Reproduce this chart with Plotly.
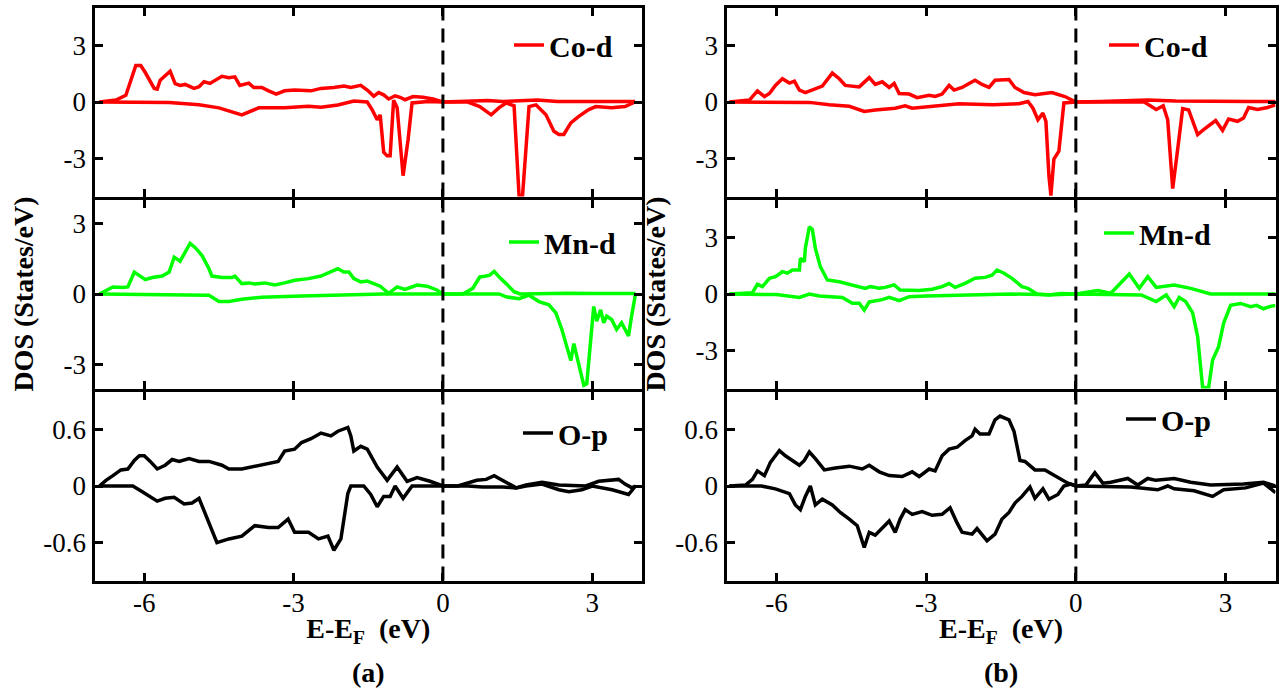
import plotly.graph_objects as go

# ---------------- data (E - E_F in eV, DOS in states/eV) ----------------
# Panel (a)
a_co_up_E = [-6.9, -6.57, -6.37, -6.27, -6.17, -6.07, -5.98, -5.8, -5.74, -5.68, -5.58, -5.48, -5.38, -5.28, -5.18, -5.0, -4.9, -4.8, -4.68, -4.58, -4.44, -4.3, -4.18, -4.08, -3.9, -3.8, -3.64, -3.5, -3.35, -3.18, -2.98, -2.65, -2.45, -2.19, -1.99, -1.85, -1.65, -1.52, -1.39, -1.29, -1.19, -1.09, -0.96, -0.86, -0.76, -0.6, -0.4, -0.2, 0.0, 0.3, 0.6, 0.9, 1.2, 1.5, 1.9, 2.3, 2.7, 3.0, 3.3, 3.6, 3.86]
a_co_up = [0, 0.1, 0.36, 1.15, 1.93, 1.93, 1.56, 0.72, 0.68, 1.15, 1.4, 1.63, 0.97, 0.88, 0.93, 0.72, 0.81, 1.07, 0.98, 1.15, 1.36, 1.29, 1.33, 0.88, 1.0, 0.77, 0.77, 0.59, 0.42, 0.59, 0.63, 0.59, 0.72, 0.77, 0.85, 0.77, 0.88, 0.63, 0.31, 0.5, 0.38, 0.16, 0.33, 0.25, 0.12, 0.29, 0.25, 0.16, 0.0, 0.02, 0.05, 0.08, 0.03, 0.05, 0.1, 0.03, 0.02, 0.02, 0.05, 0.03, 0.02]
a_co_dn_E = [-6.9, -5.5, -4.9, -4.5, -4.04, -3.7, -3.18, -2.7, -2.45, -2.11, -1.79, -1.52, -1.42, -1.32, -1.26, -1.19, -1.12, -1.06, -0.99, -0.92, -0.8, -0.7, -0.62, -0.3, 0.0, 0.5, 0.74, 0.97, 1.13, 1.27, 1.43, 1.53, 1.6, 1.73, 1.87, 2.07, 2.23, 2.33, 2.43, 2.57, 2.73, 2.93, 3.07, 3.39, 3.66, 3.86]
a_co_dn = [0, -0.03, -0.15, -0.31, -0.68, -0.31, -0.31, -0.23, -0.28, -0.16, 0.05, 0.0, -0.42, -0.94, -0.68, -2.66, -2.85, -2.85, 0.1, -0.3, -3.9, -2.0, -0.05, 0.02, 0.0, 0.0, -0.24, -0.68, -0.3, -0.05, -0.2, -4.95, -4.95, -0.24, -0.15, -0.68, -1.55, -1.72, -1.72, -1.1, -0.76, -0.4, -0.24, -0.3, -0.24, 0.0]

a_mn_up_E = [-6.9, -6.63, -6.43, -6.33, -6.2, -5.98, -5.84, -5.64, -5.5, -5.4, -5.28, -5.08, -4.98, -4.84, -4.7, -4.64, -4.44, -4.24, -4.18, -4.04, -3.9, -3.78, -3.58, -3.38, -3.18, -2.98, -2.7, -2.45, -2.19, -2.11, -1.99, -1.89, -1.79, -1.65, -1.52, -1.39, -1.26, -1.09, -0.92, -0.76, -0.52, -0.32, -0.12, 0.0, 0.4, 0.6, 0.74, 0.84, 0.94, 1.03, 1.13, 1.27, 1.43, 1.55, 2.0, 2.5, 3.0, 3.5, 3.87]
a_mn_up = [0, 0.3, 0.28, 0.3, 0.93, 0.61, 0.7, 0.76, 0.93, 1.56, 1.39, 2.14, 1.97, 1.63, 1.07, 0.76, 0.7, 0.7, 0.76, 0.44, 0.47, 0.42, 0.47, 0.38, 0.47, 0.58, 0.65, 0.76, 1.0, 1.07, 0.93, 0.93, 0.65, 0.51, 0.55, 0.42, 0.33, 0.03, 0.3, 0.19, 0.38, 0.33, 0.17, 0.0, 0.0, 0.24, 0.72, 0.75, 0.8, 0.96, 0.72, 0.44, 0.1, 0.0, 0.02, 0.03, 0.02, 0.03, 0.02]
a_mn_dn_E = [-6.9, -5.5, -4.9, -4.7, -4.5, -4.3, -4.04, -3.64, -2.84, -2.19, -1.2, 0.0, 1.13, 1.27, 1.53, 1.73, 1.93, 2.13, 2.27, 2.39, 2.49, 2.57, 2.63, 2.73, 2.83, 2.89, 2.97, 3.03, 3.09, 3.17, 3.23, 3.29, 3.39, 3.49, 3.59, 3.73, 3.79, 3.87]
a_mn_dn = [0, -0.02, -0.03, -0.05, -0.32, -0.32, -0.22, -0.14, -0.08, -0.04, 0.0, 0.0, 0.0, -0.12, -0.2, -0.05, -0.32, -0.46, -0.8, -1.5, -2.2, -2.82, -2.1, -3.03, -3.86, -3.8, -1.92, -0.53, -1.15, -0.67, -1.22, -0.94, -1.08, -1.5, -1.22, -1.78, -0.94, 0.0]

a_o_up_E = [-6.9, -6.77, -6.63, -6.47, -6.33, -6.2, -6.1, -6.0, -5.88, -5.74, -5.58, -5.44, -5.3, -5.1, -4.9, -4.7, -4.44, -4.3, -4.04, -3.78, -3.5, -3.31, -3.18, -2.98, -2.84, -2.65, -2.45, -2.25, -2.11, -1.91, -1.85, -1.79, -1.65, -1.52, -1.32, -1.12, -0.92, -0.72, -0.52, -0.26, 0.0, 0.3, 0.68, 0.87, 1.03, 1.27, 1.47, 1.67, 1.99, 2.33, 2.87, 3.13, 3.53, 3.66, 3.8, 3.87]
a_o_up = [0, 0.06, 0.11, 0.17, 0.18, 0.27, 0.32, 0.32, 0.26, 0.18, 0.22, 0.28, 0.26, 0.29, 0.26, 0.26, 0.22, 0.18, 0.18, 0.21, 0.24, 0.26, 0.37, 0.39, 0.46, 0.5, 0.56, 0.53, 0.58, 0.62, 0.53, 0.37, 0.42, 0.39, 0.2, 0.06, 0.2, 0.05, 0.09, 0.05, 0.0, 0.0, 0.06, 0.07, 0.11, 0.04, -0.02, 0.01, 0.04, 0.01, 0.0, 0.05, 0.07, 0.02, -0.02, 0.0]
a_o_dn_E = [-6.9, -6.23, -6.04, -5.74, -5.58, -5.4, -5.2, -5.04, -4.9, -4.78, -4.68, -4.54, -4.3, -4.04, -3.78, -3.5, -3.31, -3.11, -2.98, -2.7, -2.5, -2.31, -2.19, -2.05, -1.91, -1.85, -1.59, -1.45, -1.32, -1.19, -1.06, -0.96, -0.8, -0.62, 0.0, 0.5, 0.8, 1.2, 1.47, 1.67, 1.99, 2.33, 2.53, 2.79, 3.0, 3.4, 3.73, 3.87]
a_o_dn = [0, 0, -0.06, -0.16, -0.13, -0.12, -0.19, -0.18, -0.13, -0.28, -0.42, -0.6, -0.56, -0.53, -0.42, -0.44, -0.44, -0.35, -0.49, -0.49, -0.56, -0.53, -0.68, -0.56, -0.08, 0.0, 0.0, -0.09, -0.22, -0.11, -0.11, 0.0, -0.13, 0.0, 0.0, 0.0, -0.01, -0.01, -0.02, 0.0, 0.02, -0.04, -0.06, -0.04, 0.0, -0.04, -0.09, 0.0]

# Panel (b)
b_co_up_E = [-6.94, -6.54, -6.38, -6.24, -6.14, -6.02, -5.88, -5.74, -5.64, -5.54, -5.42, -5.28, -5.08, -4.88, -4.74, -4.62, -4.34, -4.14, -4.02, -3.88, -3.74, -3.64, -3.54, -3.34, -3.18, -2.94, -2.82, -2.68, -2.54, -2.44, -2.28, -2.14, -2.02, -1.88, -1.74, -1.62, -1.48, -1.34, -1.22, -1.04, -0.82, -0.48, -0.22, 0.0, 0.5, 1.0, 1.44, 2.0, 2.5, 3.0, 3.5, 4.0]
b_co_up = [0, 0.1, 0.59, 0.29, 0.45, 0.88, 1.23, 1.0, 1.1, 0.63, 0.5, 0.63, 0.84, 1.53, 1.23, 0.88, 0.8, 1.29, 0.93, 1.07, 0.77, 0.98, 0.45, 0.42, 0.23, 0.36, 0.29, 0.42, 0.88, 0.63, 0.77, 0.98, 1.15, 0.93, 0.77, 1.15, 1.15, 1.19, 0.77, 0.5, 0.38, 0.5, 0.29, 0.0, 0.02, 0.05, 0.1, 0.05, 0.03, 0.05, 0.03, 0.02]
b_co_dn_E = [-6.94, -5.34, -4.94, -4.54, -4.24, -4.02, -3.62, -3.42, -3.28, -2.88, -2.34, -1.66, -1.14, -0.96, -0.86, -0.76, -0.66, -0.6, -0.54, -0.5, -0.44, -0.34, -0.3, -0.24, 0.0, 1.0, 1.37, 1.61, 1.75, 1.84, 1.94, 2.04, 2.14, 2.26, 2.44, 2.56, 2.7, 2.8, 2.94, 3.06, 3.24, 3.36, 3.46, 3.64, 3.84, 4.0]
b_co_dn = [0, -0.02, -0.14, -0.23, -0.5, -0.42, -0.33, -0.2, -0.33, -0.23, -0.09, -0.14, -0.09, 0.03, -0.33, -0.94, -0.59, -1.02, -3.89, -4.95, -3.02, -2.6, -1.67, -0.05, 0.0, 0.0, 0.0, -0.4, -0.2, -0.94, -4.58, -2.5, -0.35, -0.42, -1.72, -1.46, -1.2, -0.98, -1.5, -0.9, -1.02, -0.85, -0.29, -0.4, -0.29, -0.15]

b_mn_up_E = [-6.94, -6.48, -6.38, -6.28, -6.14, -6.02, -5.88, -5.78, -5.68, -5.54, -5.52, -5.44, -5.42, -5.34, -5.28, -5.22, -5.12, -4.98, -4.74, -4.48, -4.22, -4.12, -3.94, -3.82, -3.64, -3.52, -3.34, -3.14, -2.88, -2.68, -2.54, -2.42, -2.22, -2.02, -1.82, -1.68, -1.58, -1.44, -1.28, -1.08, -0.96, -0.78, -0.54, -0.3, 0.0, 0.44, 0.7, 1.07, 1.27, 1.44, 1.61, 1.97, 2.3, 2.7, 3.5, 4.0]
b_mn_up = [0, 0.07, 0.51, 0.39, 0.83, 0.92, 1.18, 1.1, 1.27, 1.27, 1.89, 1.71, 2.42, 3.56, 3.42, 2.42, 1.45, 0.74, 0.65, 0.48, 0.3, 0.39, 0.3, 0.35, 0.48, 0.21, 0.21, 0.18, 0.25, 0.39, 0.56, 0.35, 0.56, 0.83, 0.88, 1.0, 1.27, 1.1, 0.83, 0.39, 0.3, 0.0, -0.05, 0.02, 0.0, 0.18, 0.04, 1.06, 0.3, 0.92, 0.35, 0.48, 0.3, 0.0, 0.0, 0.0]
b_mn_dn_E = [-6.94, -6.0, -5.54, -5.34, -5.14, -4.68, -4.48, -4.34, -4.24, -4.14, -3.88, -3.74, -3.54, -3.34, -3.0, -2.34, -1.3, -0.5, 0.0, 1.31, 1.61, 1.81, 1.97, 2.07, 2.2, 2.34, 2.44, 2.54, 2.66, 2.74, 2.86, 2.96, 3.1, 3.3, 3.5, 3.62, 3.76, 3.88, 4.0]
b_mn_dn = [0, -0.03, -0.18, 0.0, -0.1, -0.18, -0.49, -0.49, -0.85, -0.42, -0.3, -0.18, -0.35, -0.14, -0.1, -0.05, 0.0, -0.04, 0.0, -0.05, -0.4, -0.05, -0.67, -0.18, -0.4, -1.0, -2.25, -4.95, -4.95, -3.49, -2.79, -1.55, -0.6, -0.5, -0.67, -0.6, -0.78, -0.67, -0.6]

b_o_up_E = [-6.94, -6.62, -6.48, -6.38, -6.24, -6.12, -5.94, -5.82, -5.68, -5.54, -5.44, -5.34, -5.22, -5.04, -4.82, -4.54, -4.28, -4.14, -3.94, -3.74, -3.48, -3.28, -3.14, -2.94, -2.82, -2.68, -2.54, -2.38, -2.22, -2.08, -2.02, -1.92, -1.74, -1.62, -1.52, -1.34, -1.24, -1.12, -1.02, -0.82, -0.62, -0.42, -0.16, 0.0, 0.2, 0.38, 0.54, 0.7, 1.04, 1.24, 1.44, 1.6, 1.97, 2.3, 2.7, 3.36, 3.76, 4.0]
b_o_up = [0, 0.01, 0.07, 0.16, 0.11, 0.25, 0.375, 0.32, 0.27, 0.22, 0.27, 0.36, 0.29, 0.17, 0.19, 0.21, 0.18, 0.22, 0.15, 0.11, 0.1, 0.15, 0.1, 0.18, 0.16, 0.32, 0.39, 0.41, 0.48, 0.53, 0.6, 0.55, 0.55, 0.7, 0.74, 0.7, 0.58, 0.27, 0.26, 0.17, 0.17, 0.11, 0.03, 0.0, 0.01, 0.14, 0.03, 0.04, 0.08, 0.01, 0.08, 0.06, 0.08, 0.04, 0.01, 0.02, 0.04, 0.0]
b_o_dn_E = [-6.94, -6.3, -6.02, -5.74, -5.62, -5.52, -5.42, -5.32, -5.22, -5.08, -4.88, -4.72, -4.54, -4.38, -4.24, -4.14, -4.02, -3.88, -3.74, -3.62, -3.52, -3.42, -3.28, -3.08, -2.88, -2.68, -2.52, -2.38, -2.28, -2.08, -1.98, -1.78, -1.62, -1.48, -1.34, -1.22, -1.08, -0.92, -0.82, -0.66, -0.54, -0.36, -0.24, -0.1, 0.0, 1.1, 1.64, 1.84, 1.97, 2.37, 2.74, 2.96, 3.4, 3.76, 4.0]
b_o_dn = [0, 0, -0.03, -0.08, -0.2, -0.25, -0.11, 0.0, -0.2, -0.14, -0.2, -0.28, -0.35, -0.42, -0.65, -0.49, -0.52, -0.45, -0.37, -0.49, -0.35, -0.25, -0.3, -0.27, -0.31, -0.3, -0.23, -0.39, -0.49, -0.51, -0.45, -0.58, -0.51, -0.35, -0.28, -0.18, -0.11, -0.01, -0.13, -0.03, -0.14, -0.09, 0.0, 0.02, 0.0, -0.01, -0.04, 0.0, -0.03, -0.05, -0.11, -0.04, -0.02, 0.03, -0.07]

labels = ["Co-d", "Mn-d", "O-p"]
colors = ["#ff0000", "#00ff00", "#000000"]
x_ticks = [-6, -3, 0, 3]
x_tick_text = ["-6", "-3", "0", "3"]
panel_labels = ["(a)", "(b)"]

# ---------------- figure ----------------
W, H = 1284, 694
FONT = "Liberation Serif"
LW = 3  # frame line width

def px_x(p):
    return p / W

def px_y(p):
    return (H - p) / H

# frame line centres (pixels) -> plot-area domains (lines are drawn outside the area)
h = LW / 2
x_domains = [[px_x(93 + h), px_x(643.5 - h)], [px_x(725 + h), px_x(1277 - h)]]
y_edges = [6, 198, 390, 582]
y_domains = [[px_y(y_edges[i + 1] - h), px_y(y_edges[i] + h)] for i in range(3)]

y_ranges = {
    (0, 0): [-5, 5], (0, 1): [-4, 4], (0, 2): [-1, 1],
    (1, 0): [-5, 5], (1, 1): [-5, 5], (1, 2): [-1, 1],
}
y_ticks = {0: ([-3, 0, 3], ["-3", "0", "3"]),
           1: ([-3, 0, 3], ["-3", "0", "3"]),
           2: ([-0.6, 0, 0.6], ["-0.6", "0", "0.6"])}

series = {
    (0, 0): (a_co_up_E, a_co_up, a_co_dn_E, a_co_dn),
    (0, 1): (a_mn_up_E, a_mn_up, a_mn_dn_E, a_mn_dn),
    (0, 2): (a_o_up_E, a_o_up, a_o_dn_E, a_o_dn),
    (1, 0): (b_co_up_E, b_co_up, b_co_dn_E, b_co_dn),
    (1, 1): (b_mn_up_E, b_mn_up, b_mn_dn_E, b_mn_dn),
    (1, 2): (b_o_up_E, b_o_up, b_o_dn_E, b_o_dn),
}

# legend anchor positions (pixel coords of sample-line start, vertical centre)
legend_pos = {
    (0, 0): (514, 45), (0, 1): (509, 242), (0, 2): (523, 433),
    (1, 0): (1109, 45), (1, 1): (1104, 233), (1, 2): (1126, 419),
}

fig = go.Figure()
layout = dict(
    width=W, height=H,
    margin=dict(l=0, r=0, t=0, b=0),
    paper_bgcolor="white", plot_bgcolor="white",
    font=dict(family=FONT, color="black", size=27),
    showlegend=True,
    shapes=[], annotations=[],
)

tick_font = dict(family=FONT, size=27, color="black")

idx = 0
for p in range(2):
    for r in range(3):
        idx += 1
        xa = "x" if idx == 1 else f"x{idx}"
        ya = "y" if idx == 1 else f"y{idx}"
        lg = "legend" if idx == 1 else f"legend{idx}"
        eu, du, ed, dd = series[(p, r)]
        col = colors[r]
        fig.add_trace(go.Scatter(x=eu, y=du, mode="lines", name=labels[r],
                                 line=dict(color=col, width=3.5),
                                 xaxis=xa, yaxis=ya, legend=lg, showlegend=True))
        fig.add_trace(go.Scatter(x=ed, y=dd, mode="lines", name=labels[r],
                                 line=dict(color=col, width=3.5),
                                 xaxis=xa, yaxis=ya, legend=lg, showlegend=False))
        xkey = "xaxis" if idx == 1 else f"xaxis{idx}"
        ykey = "yaxis" if idx == 1 else f"yaxis{idx}"
        xax = dict(domain=x_domains[p], anchor=ya, range=[-7, 4],
                   tickvals=x_ticks, ticktext=x_tick_text,
                   ticks="inside", ticklen=8, tickwidth=2.5, tickcolor="black",
                   showline=True, linewidth=LW, linecolor="black", mirror="ticks",
                   showgrid=False, zeroline=False,
                   showticklabels=(r == 2), tickfont=tick_font,
                   ticklabelstandoff=-4)
        if r == 2:
            xax["title"] = dict(text="<b>E-E<sub>F</sub>&nbsp; (eV)</b>",
                                font=dict(family=FONT, size=28, color="black"),
                                standoff=2)
        yv, yt = y_ticks[r]
        yax = dict(domain=y_domains[r], anchor=xa, range=y_ranges[(p, r)],
                   tickvals=yv, ticktext=yt,
                   ticks="inside", ticklen=8, tickwidth=2.5, tickcolor="black",
                   showline=True, linewidth=LW, linecolor="black", mirror="ticks",
                   showgrid=False, zeroline=False, tickfont=tick_font)
        if r == 1:
            yax["title"] = dict(text="<b>DOS (States/eV)</b>",
                                font=dict(family=FONT, size=28, color="black"),
                                standoff=22)
        layout[xkey] = xax
        layout[ykey] = yax
        lx, ly = legend_pos[(p, r)]
        layout[lg] = dict(x=px_x(lx - 5), y=px_y(ly), xanchor="left", yanchor="middle",
                          bgcolor="rgba(0,0,0,0)", borderwidth=0,
                          font=dict(family=FONT, size=30, color="black", weight="bold"))
        layout["shapes"].append(dict(type="line", xref=xa, yref=f"{ya} domain",
                                     x0=0, x1=0, y0=0, y1=1,
                                     line=dict(color="black", width=3, dash="14px,8px")))

for p in range(2):
    cx = (x_domains[p][0] + x_domains[p][1]) / 2
    layout["annotations"].append(dict(text=f"<b>{panel_labels[p]}</b>", x=cx, y=px_y(672),
                                      xref="paper", yref="paper", showarrow=False,
                                      xanchor="center", yanchor="middle",
                                      font=dict(family=FONT, size=28, color="black")))

fig.update_layout(**layout)
fig.write_html("out.html",
               config={"displayModeBar": False},
               post_script="document.body.style.margin='0';document.body.style.overflow='hidden';")
